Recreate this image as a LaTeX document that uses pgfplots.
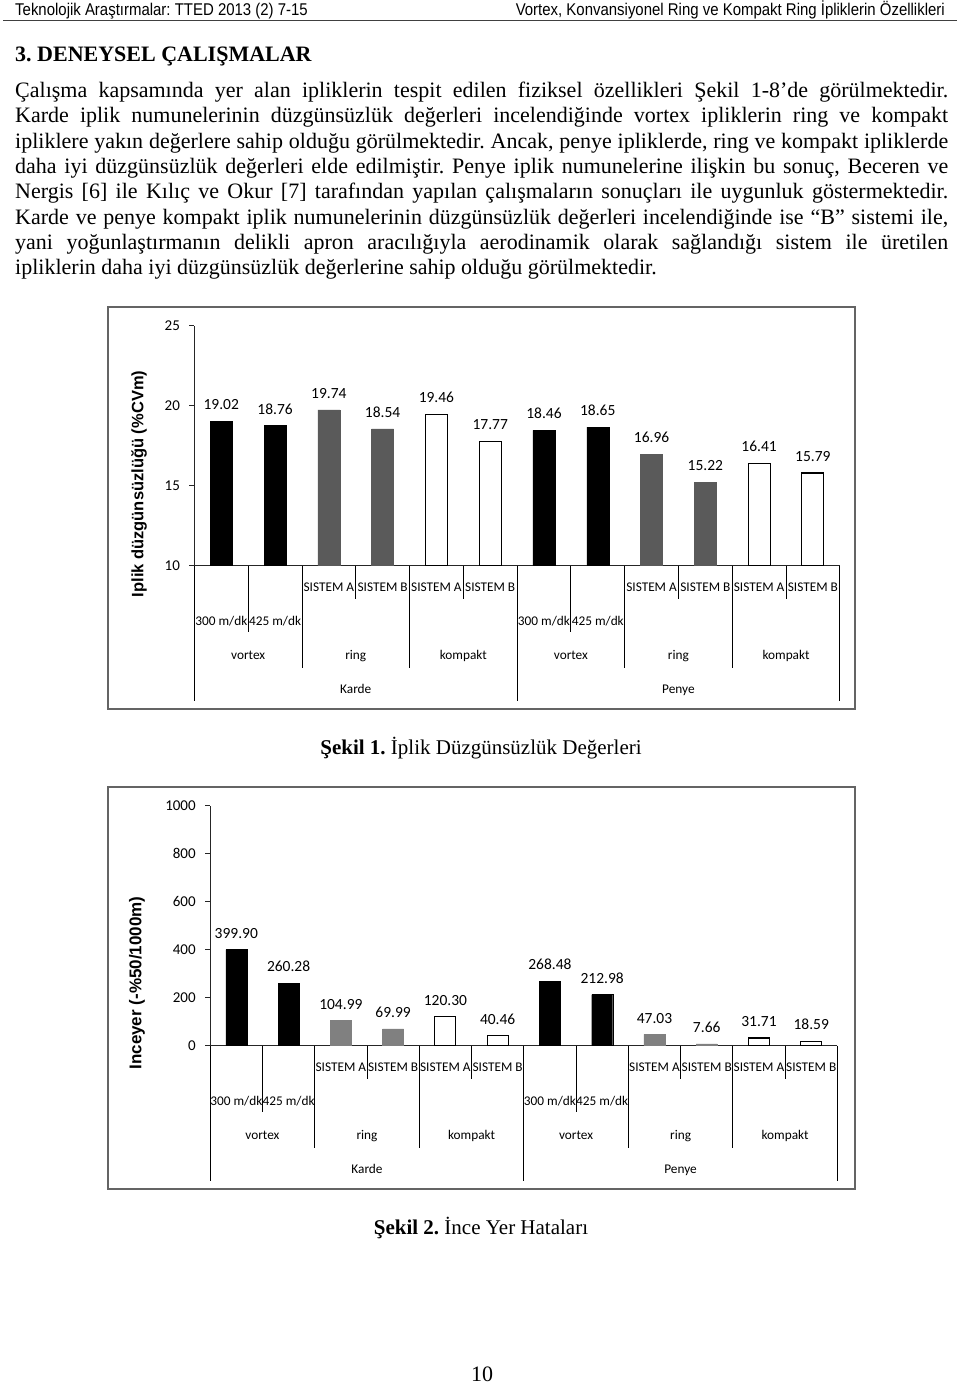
\documentclass[border=0pt]{standalone}
\usepackage{fontspec}
\setmainfont{Liberation Serif}
\newfontfamily\carl{Carlito}
\newfontfamily\hdrfont{Liberation Sans}[FakeStretch=0.88]
\newfontfamily\labfont{Liberation Sans}
\usepackage{pgfplots}
\pgfplotsset{compat=1.18}
\frenchspacing

\definecolor{gbarA}{RGB}{90,90,90}
\definecolor{gbarB}{RGB}{128,128,128}
\definecolor{frame}{RGB}{100,100,100}

\newcommand{\body}{\fontsize{22pt}{25.3pt}\selectfont}
\newcommand{\catf}{\carl\fontsize{13.3pt}{13.3pt}\selectfont}
% one justified line of the paragraph, baseline at y (px)
\newcommand{\jl}[2]{\node[anchor=base west,inner sep=0pt,font=\body] at (15pt,-#1pt) {\makebox[933pt][s]{#2}};}

\tikzset{sep/.style={black, line width=0.9pt},
  cat/.style={font=\catf, inner sep=0pt, anchor=base}}
\pgfplotsset{
  chart/.style={
    scale only axis, anchor=south west,
    xmin=-0.5, xmax=11.5, xtick=\empty,
    axis x line=bottom, axis y line=left,
    axis line style={-, line width=0.8pt, black!85},
    tick align=outside, major tick length=5pt,
    every tick/.style={black!85, line width=0.8pt},
    tick label style={font=\carl\fontsize{15pt}{15pt}\selectfont},
    y tick label style={xshift=-6pt},
    /pgf/number format/assume math mode=true,
    /pgf/number format/1000 sep={},
    clip mode=individual,
    nodes near coords={\pgfmathprintnumber[fixed,fixed zerofill,precision=2,assume math mode=true]{\pgfplotspointmeta}},
    nodes near coords style={font=\carl\fontsize{15.5pt}{15.5pt}\selectfont, anchor=south, inner sep=0pt, yshift=11pt, text=black},
  },
}

% category axis below the bars
\newcommand{\Decor}[1]{%
  \draw[sep] (axis cs:-0.5,#1) -- ++(0pt,-135.4pt);
  \draw[sep] (axis cs:0.5,#1) -- ++(0pt,-66.6pt);
  \draw[sep] (axis cs:1.5,#1) -- ++(0pt,-102pt);
  \draw[sep] (axis cs:2.5,#1) -- ++(0pt,-33.4pt);
  \draw[sep] (axis cs:3.5,#1) -- ++(0pt,-102pt);
  \draw[sep] (axis cs:4.5,#1) -- ++(0pt,-33.4pt);
  \draw[sep] (axis cs:5.5,#1) -- ++(0pt,-135.4pt);
  \draw[sep] (axis cs:6.5,#1) -- ++(0pt,-66.6pt);
  \draw[sep] (axis cs:7.5,#1) -- ++(0pt,-102pt);
  \draw[sep] (axis cs:8.5,#1) -- ++(0pt,-33.4pt);
  \draw[sep] (axis cs:9.5,#1) -- ++(0pt,-102pt);
  \draw[sep] (axis cs:10.5,#1) -- ++(0pt,-33.4pt);
  \draw[sep] (axis cs:11.5,#1) -- ++(0pt,-135.4pt);
  \path (axis cs:2,#1) ++(0pt,-25.9pt) node[cat] {SISTEM A};
  \path (axis cs:3,#1) ++(0pt,-25.9pt) node[cat] {SISTEM B};
  \path (axis cs:4,#1) ++(0pt,-25.9pt) node[cat] {SISTEM A};
  \path (axis cs:5,#1) ++(0pt,-25.9pt) node[cat] {SISTEM B};
  \path (axis cs:8,#1) ++(0pt,-25.9pt) node[cat] {SISTEM A};
  \path (axis cs:9,#1) ++(0pt,-25.9pt) node[cat] {SISTEM B};
  \path (axis cs:10,#1) ++(0pt,-25.9pt) node[cat] {SISTEM A};
  \path (axis cs:11,#1) ++(0pt,-25.9pt) node[cat] {SISTEM B};
  \path (axis cs:0,#1) ++(0pt,-59.9pt) node[cat] {300 m/dk};
  \path (axis cs:1,#1) ++(0pt,-59.9pt) node[cat] {425 m/dk};
  \path (axis cs:6,#1) ++(0pt,-59.9pt) node[cat] {300 m/dk};
  \path (axis cs:7,#1) ++(0pt,-59.9pt) node[cat] {425 m/dk};
  \path (axis cs:0.5,#1) ++(0pt,-93.9pt) node[cat] {vortex};
  \path (axis cs:2.5,#1) ++(0pt,-93.9pt) node[cat] {ring};
  \path (axis cs:4.5,#1) ++(0pt,-93.9pt) node[cat] {kompakt};
  \path (axis cs:6.5,#1) ++(0pt,-93.9pt) node[cat] {vortex};
  \path (axis cs:8.5,#1) ++(0pt,-93.9pt) node[cat] {ring};
  \path (axis cs:10.5,#1) ++(0pt,-93.9pt) node[cat] {kompakt};
  \path (axis cs:2.5,#1) ++(0pt,-127.9pt) node[cat] {Karde};
  \path (axis cs:8.5,#1) ++(0pt,-127.9pt) node[cat] {Penye};
}

\begin{document}
\begin{tikzpicture}
\fill[white] (0pt,0pt) rectangle (960pt,-1385pt);

% running head
\node[anchor=base west,inner sep=0pt,font=\hdrfont\fontsize{17pt}{17pt}\selectfont] at (15pt,-15pt) {Teknolojik Araştırmalar: TTED 2013 (2) 7-15};
\node[anchor=base east,inner sep=0pt,font=\hdrfont\fontsize{17pt}{17pt}\selectfont] at (945pt,-15pt) {Vortex, Konvansiyonel Ring ve Kompakt Ring İpliklerin Özellikleri};
\draw[black!75, line width=1pt] (3pt,-20pt) -- (957pt,-20pt);

\node[anchor=base west,inner sep=0pt,font=\bfseries\fontsize{22pt}{22pt}\selectfont] at (15pt,-61pt) {3. DENEYSEL ÇALIŞMALAR};

\jl{97.5}{Çalışma kapsamında yer alan ipliklerin tespit edilen fiziksel özellikleri Şekil 1-8’de görülmektedir.}
\jl{122.8}{Karde iplik numunelerinin düzgünsüzlük değerleri incelendiğinde vortex ipliklerin ring ve kompakt}
\jl{148.1}{ipliklere yakın değerlere sahip olduğu görülmektedir. Ancak, penye ipliklerde, ring ve kompakt ipliklerde}
\jl{173.4}{daha iyi düzgünsüzlük değerleri elde edilmiştir. Penye iplik numunelerine ilişkin bu sonuç, Beceren ve}
\jl{198.7}{Nergis [6] ile Kılıç ve Okur [7] tarafından yapılan çalışmaların sonuçları ile uygunluk göstermektedir.}
\jl{224}{Karde ve penye kompakt iplik numunelerinin düzgünsüzlük değerleri incelendiğinde ise “B” sistemi ile,}
\jl{249.3}{yani yoğunlaştırmanın delikli apron aracılığıyla aerodinamik olarak sağlandığı sistem ile üretilen}
\node[anchor=base west,inner sep=0pt,font=\body] at (15pt,-274.6pt) {ipliklerin daha iyi düzgünsüzlük değerlerine sahip olduğu görülmektedir.};

% ---- Sekil 1 ----
\draw[frame, line width=1.3pt] (108pt,-307pt) rectangle (855pt,-709pt);
\begin{axis}[chart, at={(194.4pt,-565.6pt)}, width=645.4pt, height=240pt,
  ymin=10, ymax=25, ytick={10,15,20,25}]
\addplot[ybar, bar width=22pt, bar shift=0pt, fill=black, draw=black] coordinates
  {(0,19.02) (1,18.76) (6,18.46) (7,18.65)};
\addplot[ybar, bar width=22pt, bar shift=0pt, fill=gbarA, draw=gbarA] coordinates
  {(2,19.74) (3,18.54) (8,16.96) (9,15.22)};
\addplot[ybar, bar width=22pt, bar shift=0pt, fill=white, draw=black, line width=1.1pt] coordinates
  {(4,19.46) (5,17.77) (10,16.41) (11,15.79)};
\Decor{10}
\end{axis}
\node[rotate=90,inner sep=0pt,font=\labfont\bfseries\fontsize{16.5pt}{16.5pt}\selectfont] at (139pt,-484pt) {Iplik düzgünsüzlüğü (\%CVm)};
\node[inner sep=0pt,font=\fontsize{21pt}{21pt}\selectfont] at (481pt,-748pt) {\textbf{Şekil 1.} İplik Düzgünsüzlük Değerleri};

% ---- Sekil 2 ----
\draw[frame, line width=1.3pt] (108pt,-787pt) rectangle (855pt,-1189pt);
\begin{axis}[chart, at={(210.2pt,-1045.6pt)}, width=627.2pt, height=240pt,
  ymin=0, ymax=1000, ytick={0,200,400,600,800,1000}]
\addplot[ybar, bar width=21pt, bar shift=0pt, fill=black, draw=black] coordinates
  {(0,399.90) (1,260.28) (6,268.48) (7,212.98)};
\addplot[ybar, bar width=21pt, bar shift=0pt, fill=gbarB, draw=gbarB] coordinates
  {(2,104.99) (3,69.99) (8,47.03) (9,7.66)};
\addplot[ybar, bar width=21pt, bar shift=0pt, fill=white, draw=black, line width=1.1pt] coordinates
  {(4,120.30) (5,40.46) (10,31.71) (11,18.59)};
\Decor{0}
\end{axis}
\node[rotate=90,inner sep=0pt,font=\labfont\bfseries\fontsize{17pt}{17pt}\selectfont] at (137pt,-983pt) {Inceyer (-\%50/1000m)};
\node[inner sep=0pt,font=\fontsize{21pt}{21pt}\selectfont] at (481pt,-1228pt) {\textbf{Şekil 2.} İnce Yer Hataları};

\node[anchor=base,inner sep=0pt,font=\body] at (482pt,-1381pt) {10};

\pgfresetboundingbox
\useasboundingbox (0pt,0pt) rectangle (960pt,-1385pt);
\end{tikzpicture}
\end{document}
